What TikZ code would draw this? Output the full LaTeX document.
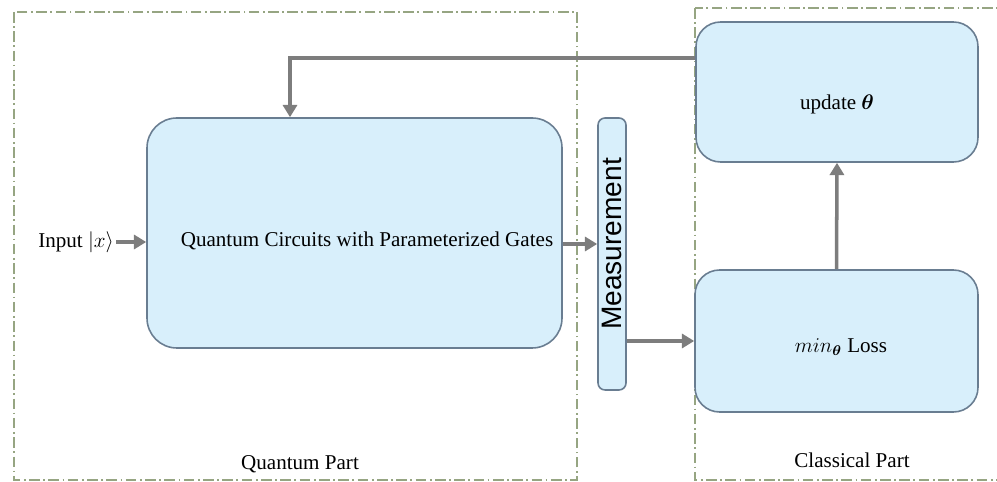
\documentclass[tikz,border=0pt]{standalone}
\usepackage{amsmath}
\usepackage{fontspec}
\setmainfont{Liberation Serif}
\setsansfont{Liberation Sans}
\usetikzlibrary{arrows.meta}
\definecolor{boxfill}{RGB}{216,239,251}
\definecolor{boxline}{RGB}{105,125,145}
\definecolor{arrowgray}{RGB}{125,125,125}
\definecolor{framegreen}{RGB}{150,165,130}
\tikzset{
  block/.style={draw=boxline, fill=boxfill, line width=0.9pt, rounded corners=14pt, align=center, inner sep=0pt},
  flow/.style={draw=arrowgray, line width=2pt, -{Triangle[length=7pt,width=8pt]}},
  part/.style={draw=framegreen, line width=0.8pt, dash pattern=on 6pt off 2pt on 1pt off 2pt}
}
\begin{document}
\begin{tikzpicture}[x=0.02cm, y=-0.02cm, font=\large]
\useasboundingbox (0,0) rectangle (997,482);

% the two parts
\draw[part] (14,12) rectangle (577,480);
\draw[part] (695,8) rectangle (1000,480);
\node (qlabel) at (300,464) {Quantum Part};
\node (clabel) at (852,460) {Classical Part};

% blocks
\node[block, rounded corners=17pt, minimum width=415*0.02cm, minimum height=230*0.02cm] (circ) at (354.5,233) {};
\node (circtext) at (367,241) {Quantum Circuits with Parameterized Gates};
\node[block, rounded corners=4pt, minimum width=28*0.02cm, minimum height=272*0.02cm] (meas) at (612,254) {};
\node[rotate=90, font=\sffamily\fontsize{16}{18}\selectfont] (meastext) at (612,244) {Measurement};
\node[block, minimum width=282*0.02cm, minimum height=140*0.02cm] (update) at (837,92) {};
\node (updtext) at (837,104) {update $\boldsymbol{\theta}$};
\node[block, minimum width=283*0.02cm, minimum height=142*0.02cm] (loss) at (836.5,341) {};
\node (losstext) at (841,347) {$min_{\boldsymbol{\theta}}$ Loss};

% input
\node[anchor=east, inner sep=1pt] (input) at (116,242) {Input $|x\rangle$};

% helper points for the bends
\coordinate (y1) at (0,244);
\coordinate (y2) at (0,341);
\coordinate (fb) at (290,58);

% connectors
\draw[flow] (input.east) -- (circ.west |- input.east);
\draw[flow] (circ.east |- y1) -- (meas.west |- y1);
\draw[flow] (meas.east |- y2) -- (loss.west |- y2);
\draw[flow] (loss.north) -- (update.south);
\draw[flow] (update.west |- fb) -| (circ.north -| fb);
\end{tikzpicture}
\end{document}
